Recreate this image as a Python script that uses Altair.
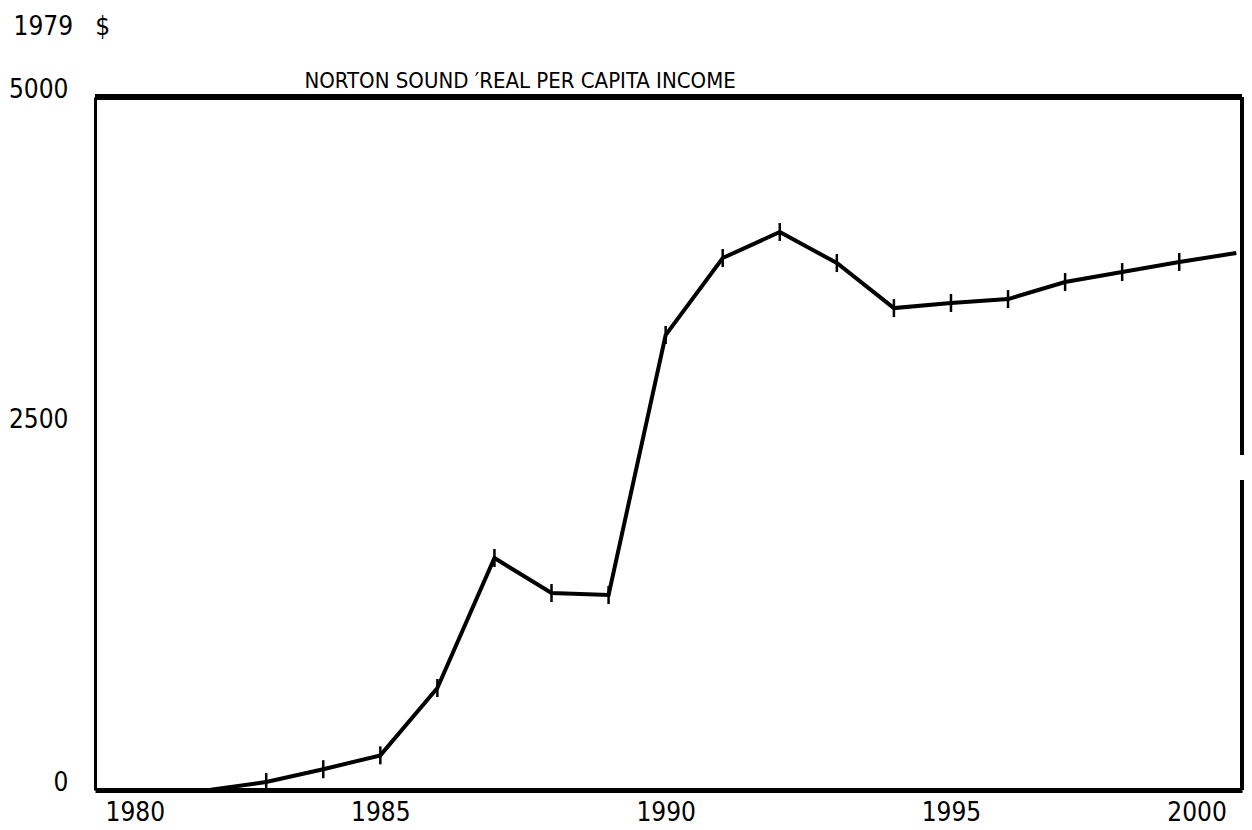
import altair as alt
import pandas as pd

# Norton Sound real per capita income, 1979 dollars
years = [1982, 1983, 1984, 1985, 1986, 1987, 1988, 1989, 1990, 1991,
         1992, 1993, 1994, 1995, 1996, 1997, 1998, 1999, 2000]
income = [0, 58, 150, 250, 736, 1674, 1421, 1407, 3283, 3838,
          4026, 3802, 3477, 3514, 3542, 3665, 3737, 3810, 3874]

x_ticks = [1980, 1985, 1990, 1995, 2000]
y_ticks = [0, 2500, 5000]

title_text = "NORTON SOUND \u2032REAL PER CAPITA INCOME"
unit_text = "1979\u00a0\u00a0\u00a0$"

df = pd.DataFrame({"year": years, "income": income})

FONT = "DejaVu Sans Condensed, Liberation Sans Narrow, sans-serif"

x_scale = alt.Scale(domain=[1980, 2000.1], nice=False, zero=False)
y_scale = alt.Scale(domain=[0, 5000], nice=False)

x_axis = alt.Axis(values=x_ticks, format="d", title=None, grid=False, ticks=False,
                  domainColor="black", domainWidth=5, labelFont=FONT, labelFontSize=26,
                  labelColor="black", labelPadding=9, labelFlush=12, labelFlushOffset=-10)
y_axis = alt.Axis(values=y_ticks, format="d", title=unit_text, grid=False, ticks=False,
                  domainColor="black", domainWidth=3, labelFont=FONT, labelFontSize=26,
                  labelColor="black", labelPadding=27, labelBaseline="alphabetic",
                  labelOffset={"expr": "datum.value == 2500 ? -16 : 0"},
                  titleAngle=0, titleAlign="left", titleBaseline="top",
                  titleX=-82, titleY=-84, titleFont=FONT, titleFontSize=26,
                  titleFontWeight="normal", titleColor="black")

base = alt.Chart(df)

line = base.mark_line(color="black", strokeWidth=4, interpolate="linear").encode(
    x=alt.X("year:Q", scale=x_scale, axis=x_axis),
    y=alt.Y("income:Q", scale=y_scale, axis=y_axis),
)

marks = base.transform_filter(
    (alt.datum.year > 1982) & (alt.datum.year < 2000)
).mark_tick(orient="vertical", color="black", opacity=1, size=18, thickness=2.5).encode(
    x=alt.X("year:Q", scale=x_scale),
    y=alt.Y("income:Q", scale=y_scale),
)

top_border = alt.Chart(df).mark_rule(color="black", strokeWidth=5).encode(
    y=alt.datum(5000), x=alt.datum(1980), x2=alt.datum(2000.1)
)
right_low = alt.Chart(df).mark_rule(color="black", strokeWidth=4).encode(
    x=alt.datum(2000.1), y=alt.datum(0), y2=alt.datum(2237)
)
right_high = alt.Chart(df).mark_rule(color="black", strokeWidth=4).encode(
    x=alt.datum(2000.1), y=alt.datum(2417), y2=alt.datum(5000)
)

chart = alt.layer(top_border, right_low, right_high, line, marks).properties(
    width=1147,
    height=693,
    autosize=alt.AutoSizeParams(type="none"),
    padding={"left": 87, "top": 89, "right": 2, "bottom": 36},
    title=alt.TitleParams(title_text, anchor="start", dx=296, dy=86, offset=6,
                          font=FONT, fontSize=22, fontWeight="normal", color="black"),
    background="white",
).configure_view(stroke=None)

chart.save("out.html", embed_options={"renderer": "svg", "actions": False})
